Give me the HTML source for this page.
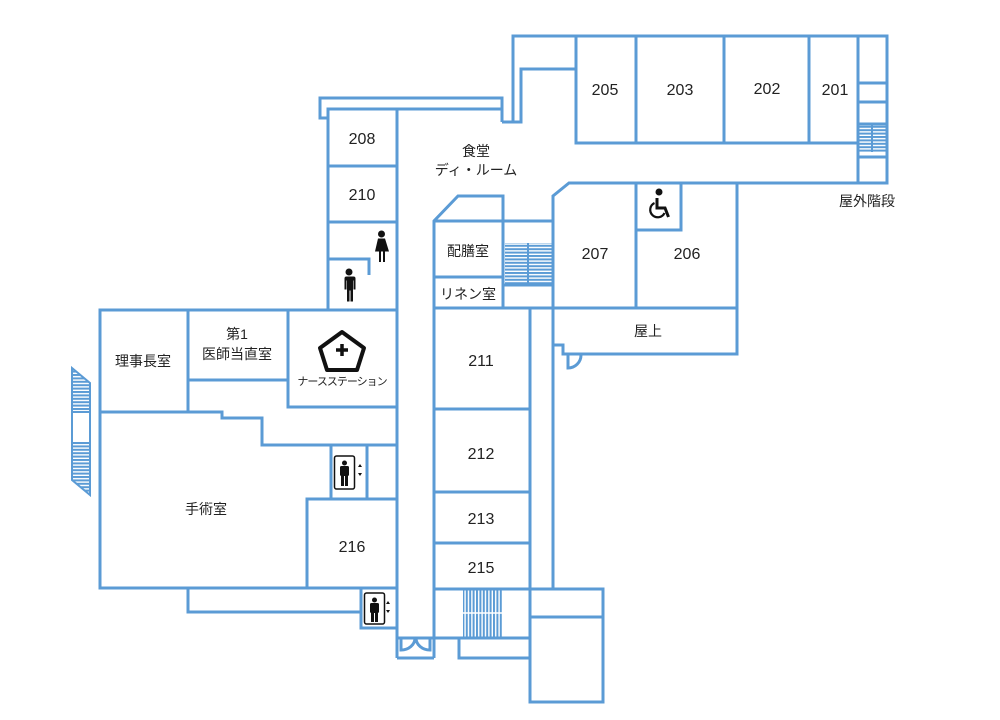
<!DOCTYPE html>
<html><head><meta charset="utf-8"><style>
html,body{margin:0;padding:0;background:#fff;}
svg{display:block;}
text{font-family:"Liberation Sans","Noto Sans CJK JP",sans-serif;fill:#222;text-anchor:middle;}
.n{font-size:16px;}
.j{font-size:14px;}
</style></head><body>
<svg width="1000" height="720" viewBox="0 0 1000 720" xmlns="http://www.w3.org/2000/svg">
<defs>
<pattern id="hz" width="10" height="3.4" patternUnits="userSpaceOnUse"><rect width="10" height="2" fill="#5b9bd5"/></pattern>
<pattern id="vt" width="3.4" height="10" patternUnits="userSpaceOnUse"><rect width="2" height="10" fill="#5b9bd5"/></pattern>
<clipPath id="ls"><polygon points="72,368 90,383 90,495 72,480"/></clipPath>
</defs>
<g fill="none" stroke="#5b9bd5" stroke-width="3">
<polyline points="502,122 502,98 320,98 320,118 328,118"/>
<polyline points="328,310 328,109 502,109"/>
<polyline points="502,122 521,122 521,69 576,69"/>
<polyline points="513,122 513,36 887,36 887,183 569,183 553,196 553,589"/>
<rect x="576" y="36" width="282" height="107"/>
<line x1="636" y1="36" x2="636" y2="143"/>
<line x1="724" y1="36" x2="724" y2="143"/>
<line x1="809" y1="36" x2="809" y2="143"/>
<rect x="858" y="83" width="29" height="100"/>
<line x1="858" y1="102" x2="887" y2="102"/>
<line x1="858" y1="124" x2="887" y2="124"/>
<line x1="858" y1="157" x2="887" y2="157"/>
<line x1="636" y1="183" x2="636" y2="308"/>
<polyline points="636,230 681,230 681,183"/>
<polyline points="737,183 737,354 563,354 563,345 553,345"/>
<line x1="553" y1="308" x2="737" y2="308"/>
<path d="M568,354 L568,368 A13,13 0 0 0 581,355"/>
<line x1="397" y1="109" x2="397" y2="658"/>
<line x1="328" y1="166" x2="397" y2="166"/>
<line x1="328" y1="222" x2="397" y2="222"/>
<polyline points="328,259 369,259 369,275"/>
<polyline points="434,658 434,221 458,196 503,196 503,308"/>
<line x1="434" y1="221" x2="553" y2="221"/>
<line x1="434" y1="277" x2="503" y2="277"/>
<line x1="434" y1="308" x2="553" y2="308"/>
<line x1="503" y1="285" x2="553" y2="285"/>
<line x1="530" y1="308" x2="530" y2="589"/>
<line x1="434" y1="409" x2="530" y2="409"/>
<line x1="434" y1="492" x2="530" y2="492"/>
<line x1="434" y1="543" x2="530" y2="543"/>
<line x1="434" y1="589" x2="603" y2="589"/>
<line x1="434" y1="638" x2="530" y2="638"/>
<rect x="459" y="638" width="71" height="20"/>
<rect x="530" y="589" width="73" height="113"/>
<line x1="530" y1="617" x2="603" y2="617"/>
<line x1="397" y1="658" x2="434" y2="658"/>
<line x1="397" y1="638" x2="434" y2="638"/>
<path d="M401,638 L401,650 A14,12 0 0 0 415,638 M430,638 L430,650 A14,12 0 0 1 416,638"/>
<polyline points="397,310 100,310 100,588 397,588"/>
<line x1="188" y1="310" x2="188" y2="412"/>
<line x1="188" y1="380" x2="288" y2="380"/>
<polyline points="288,310 288,407 397,407"/>
<polyline points="100,412 222,412 222,418 262,418 262,445 397,445"/>
<rect x="331" y="445" width="36" height="54"/>
<polyline points="307,588 307,499 397,499"/>
<polyline points="188,588 188,612 361,612"/>
<rect x="361" y="588" width="36" height="40"/>
</g>
<rect x="505" y="243" width="47" height="42" fill="url(#hz)"/>
<line x1="528" y1="243" x2="528" y2="285" stroke="#5b9bd5" stroke-width="2"/>
<rect x="859" y="124" width="27" height="28" fill="url(#hz)"/>
<line x1="872" y1="124" x2="872" y2="152" stroke="#5b9bd5" stroke-width="2"/>
<rect x="463" y="590" width="39" height="47" fill="url(#vt)"/>
<line x1="463" y1="613" x2="502" y2="613" stroke="#fff" stroke-width="1.5"/>
<g clip-path="url(#ls)">
<rect x="72" y="366" width="19" height="46" fill="url(#hz)"/>
<rect x="72" y="443" width="19" height="54" fill="url(#hz)"/>
</g>
<polygon points="72,368 90,383 90,495 72,480" fill="none" stroke="#5b9bd5" stroke-width="2"/>
<line x1="72" y1="412" x2="90" y2="412" stroke="#5b9bd5" stroke-width="2"/>
<line x1="72" y1="443" x2="90" y2="443" stroke="#5b9bd5" stroke-width="2"/>
<g fill="#111">
<circle cx="381.5" cy="234" r="3.5"/><path d="M378,238.5 h7 l4,13 h-4 v10.5 h-2 v-10.5 h-2 v10.5 h-2 v-10.5 h-4z"/>
<circle cx="349" cy="272" r="3.5"/><path d="M344.5,276.5 h9 q2,0 2,2 v11 h-2 v-9 h-0.5 v21 h-2.5 v-11 h-1 v11 h-2.5 v-21 h-0.5 v9 h-2 v-11 q0,-2 2,-2z"/>
<circle cx="659" cy="192" r="3.5"/>
</g>
<path d="M657,198 v10 h8 l3.5,9" fill="none" stroke="#111" stroke-width="3"/>
<path d="M654.5,203 a7.5,7.5 0 1 0 10,10" fill="none" stroke="#111" stroke-width="2.2"/>
<polygon points="342,332 364,348 357,370 327,370 320,348" fill="none" stroke="#111" stroke-width="4" stroke-linejoin="round"/>
<path d="M342,344 v12 M336,350 h12" stroke="#111" stroke-width="3.5"/>
<g>
<rect x="334.5" y="456" width="20" height="33" rx="2" fill="none" stroke="#111" stroke-width="1.5"/>
<circle cx="344.5" cy="463" r="2.5" fill="#111"/><rect x="340" y="466" width="9" height="10" rx="1.5" fill="#111"/><rect x="341" y="475" width="3" height="11" fill="#111"/><rect x="345" y="475" width="3" height="11" fill="#111"/>
<path d="M358,467 l2,-3 l2,3z M358,473 l2,3 l2,-3z" fill="#111"/>
<rect x="364.5" y="593" width="20" height="31" rx="2" fill="none" stroke="#111" stroke-width="1.5"/>
<circle cx="374.5" cy="600" r="2.5" fill="#111"/><rect x="370" y="603" width="9" height="10" rx="1.5" fill="#111"/><rect x="371" y="612" width="3" height="10" fill="#111"/><rect x="375" y="612" width="3" height="10" fill="#111"/>
<path d="M386,604 l2,-3 l2,3z M386,610 l2,3 l2,-3z" fill="#111"/>
</g>
<text class="n" x="362" y="144">208</text>
<text class="n" x="362" y="200">210</text>
<text class="j" x="476" y="156">食堂</text>
<text class="j" x="476" y="175">ディ・ルーム</text>
<text class="j" x="468" y="256">配膳室</text>
<text class="j" x="468" y="299">リネン室</text>
<text class="n" x="605" y="95">205</text>
<text class="n" x="680" y="95">203</text>
<text class="n" x="767" y="94">202</text>
<text class="n" x="835" y="95">201</text>
<text class="n" x="595" y="259">207</text>
<text class="n" x="687" y="259">206</text>
<text class="j" x="648" y="336">屋上</text>
<text class="j" x="867" y="206">屋外階段</text>
<text class="j" x="143" y="366">理事長室</text>
<text class="j" x="237" y="339">第1</text>
<text class="j" x="237" y="359">医師当直室</text>
<text x="342" y="385" style="font-size:11px;letter-spacing:-1px">ナースステーション</text>
<text class="j" x="206" y="514">手術室</text>
<text class="n" x="352" y="552">216</text>
<text class="n" x="481" y="366">211</text>
<text class="n" x="481" y="459">212</text>
<text class="n" x="481" y="524">213</text>
<text class="n" x="481" y="573">215</text>
</svg>
</body></html>
